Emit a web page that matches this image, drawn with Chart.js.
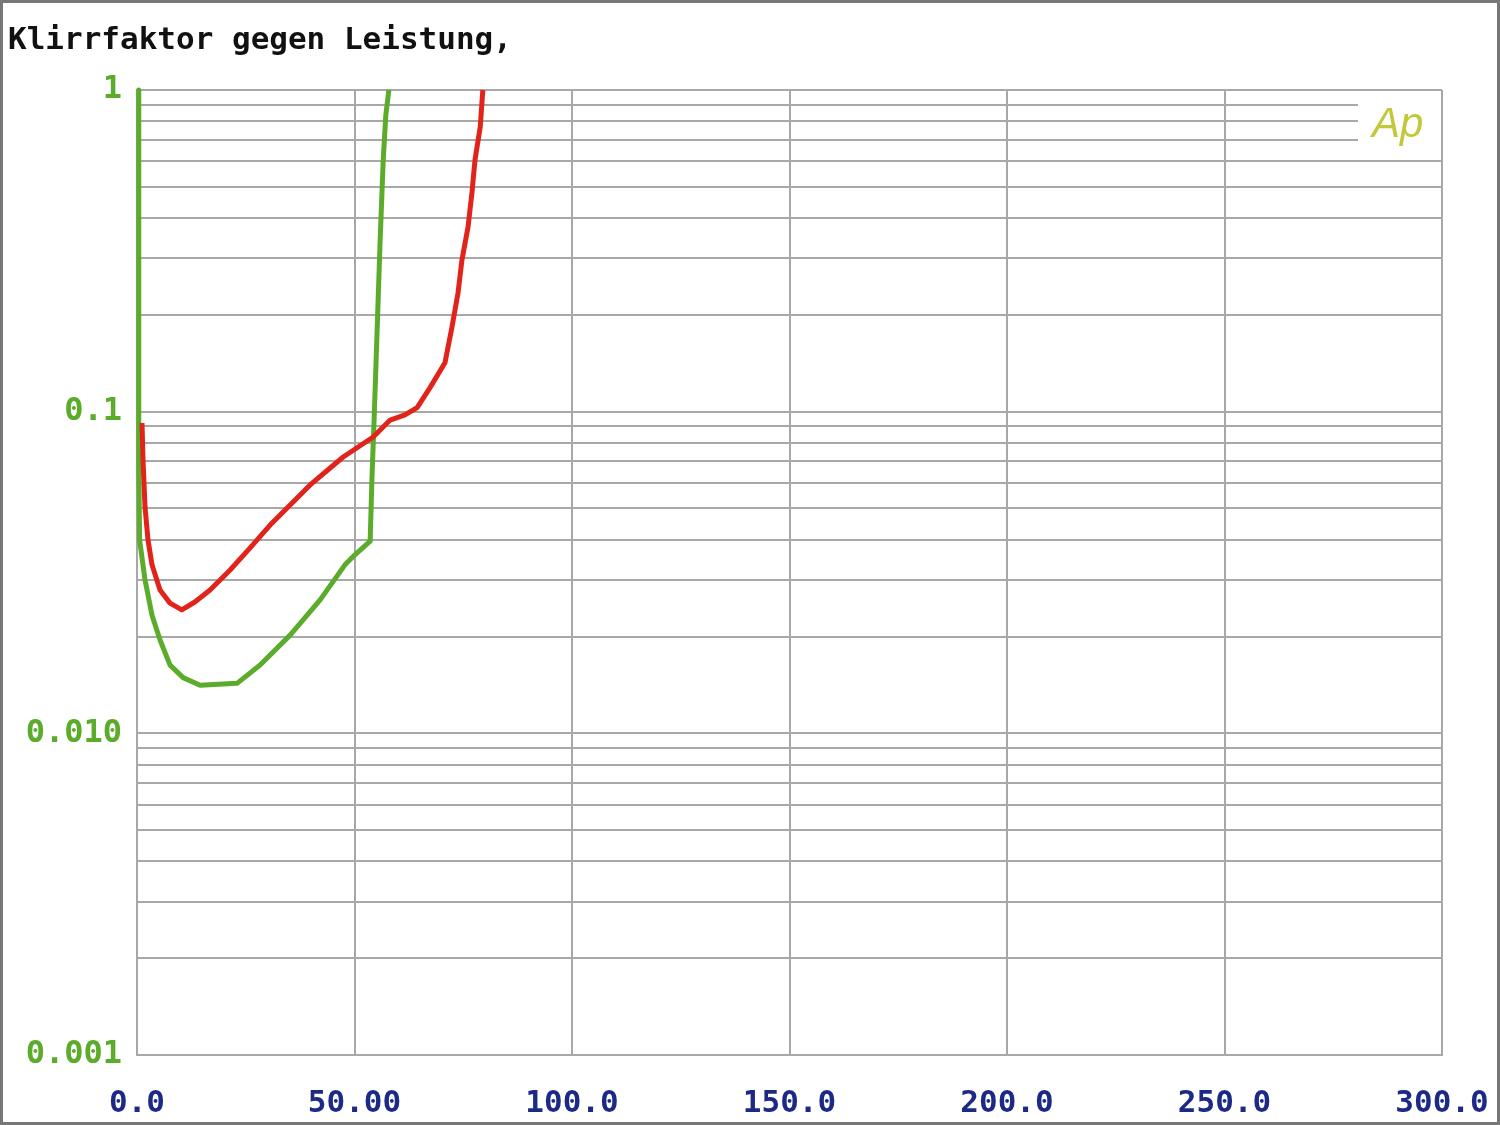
<!DOCTYPE html>
<html>
<head>
<meta charset="utf-8">
<script src="https://cdn.jsdelivr.net/npm/chart.js@4.4.0/dist/chart.umd.min.js"></script>
<style>
  html, body { margin:0; padding:0; background:#fff; }
  #wrap { width:1500px; height:1125px; }
</style>
</head>
<body>
<div id="wrap"><canvas id="c" width="1500" height="1125"></canvas></div>
<script>
// values (x = power, y = THD)
const greenX = [0.4, 0.4, 0.6, 1.84, 3.45, 5.3, 7.6, 10.6, 14.5, 23.0, 28.3, 35.2, 42.1, 47.8, 50.1, 53.6, 54.0, 54.5, 55.2, 55.9, 56.6, 57.2, 57.9];
const greenY = [1.0, 0.0708, 0.0399, 0.030, 0.0233, 0.0195, 0.0163, 0.0149, 0.0141, 0.0143, 0.0163, 0.0202, 0.0260, 0.0334, 0.0359, 0.0396, 0.0613, 0.094, 0.179, 0.342, 0.606, 0.836, 1.0];

const redX = [1.15, 1.38, 1.84, 2.53, 3.45, 5.29, 7.59, 10.3, 13.3, 16.8, 21.4, 26.0, 30.6, 35.2, 39.8, 44.4, 47.4, 54.3, 58.2, 61.6, 64.4, 67.4, 70.8, 72.4, 73.8, 74.7, 76.1, 77.0, 77.7, 78.9, 79.5];
const redY = [0.0922, 0.0708, 0.0506, 0.0399, 0.0334, 0.0279, 0.0254, 0.0242, 0.0256, 0.0279, 0.0322, 0.0377, 0.0444, 0.0513, 0.0592, 0.0668, 0.0723, 0.0834, 0.0942, 0.0977, 0.103, 0.119, 0.142, 0.183, 0.234, 0.296, 0.375, 0.479, 0.606, 0.767, 1.0];

const xTickLabels = ["0.0", "50.00", "100.0", "150.0", "200.0", "250.0", "300.0"];
const yDecades = [0.001, 0.01, 0.1, 1];
const yDecadeLabels = ["0.001", "0.010", "0.1", "1"];

function toPoints(xs, ys) {
  return xs.map((x, i) => ({ x: x, y: ys[i] }));
}

// all log grid positions: 1..9 in every decade
const yTickValues = [];
for (let d = 0; d < 3; d++) {
  for (let k = 1; k <= 9; k++) yTickValues.push(+(yDecades[d] * k).toPrecision(3));
}
yTickValues.push(1);

const monoFont = "'DejaVu Sans Mono', 'Liberation Mono', monospace";

const framePlugin = {
  id: 'frame',
  beforeDraw(chart) {
    const ctx = chart.ctx;
    ctx.save();
    ctx.fillStyle = '#fff';
    ctx.fillRect(0, 0, chart.width, chart.height);
    ctx.restore();
  },
  beforeDatasetsDraw(chart) {
    const ctx = chart.ctx;
    const a = chart.chartArea;
    // blank box behind the logo
    ctx.save();
    ctx.fillStyle = '#fff';
    ctx.fillRect(1358, a.top + 4, a.right - 1 - 1358, 58);
    ctx.font = "italic 300 42px 'Liberation Sans', 'DejaVu Sans', sans-serif";
    ctx.fillStyle = '#c2c83a';
    ctx.textBaseline = 'alphabetic';
    ctx.fillText('Ap', 1372, 137);
    ctx.restore();
  },
  afterDraw(chart) {
    const ctx = chart.ctx;
    ctx.save();
    ctx.font = "bold 31px " + monoFont;
    ctx.fillStyle = '#111';
    ctx.textBaseline = 'alphabetic';
    ctx.fillText('Klirrfaktor gegen Leistung,', 8, 49);
    ctx.strokeStyle = '#777';
    ctx.lineWidth = 4;
    ctx.strokeRect(1, 1, chart.width - 2, chart.height - 2);
    ctx.restore();
  }
};

new Chart(document.getElementById('c'), {
  type: 'scatter',
  data: {
    datasets: [
      {
        data: toPoints(redX, redY),
        showLine: true,
        borderColor: '#e2231a',
        borderWidth: 5,
        pointRadius: 0,
        tension: 0,
        clip: false,
        borderJoinStyle: 'round'
      },
      {
        data: toPoints(greenX, greenY),
        showLine: true,
        borderColor: '#5aac2a',
        borderWidth: 5,
        pointRadius: 0,
        tension: 0,
        clip: false,
        borderJoinStyle: 'round'
      }
    ]
  },
  options: {
    responsive: false,
    animation: false,
    layout: { padding: { top: 90, right: 58, left: 0, bottom: 0 } },
    plugins: { legend: { display: false }, tooltip: { enabled: false } },
    scales: {
      x: {
        type: 'linear',
        min: 0,
        max: 300,
        afterFit: s => { s.height = 70; s.paddingLeft = 0; s.paddingRight = 0; },
        ticks: {
          stepSize: 50,
          padding: 30,
          color: '#1c2a86',
          font: { family: monoFont, size: 31, weight: 'bold' },
          callback: (v, i) => xTickLabels[i]
        },
        grid: { color: '#a8a8a8', lineWidth: 2, drawTicks: false },
        border: { color: '#a8a8a8', width: 2 }
      },
      y: {
        type: 'logarithmic',
        min: 0.001,
        max: 1,
        afterFit: s => { s.width = 137; s.paddingTop = 0; s.paddingBottom = 0; },
        afterBuildTicks: s => { s.ticks = yTickValues.map(v => ({ value: v })); },
        ticks: {
          autoSkip: false,
          padding: 15,
          color: '#5aac2a',
          font: { family: monoFont, size: 32, weight: 'bold' },
          callback: v => {
            const i = yDecades.findIndex(d => Math.abs(d - v) / d < 1e-6);
            return i >= 0 ? yDecadeLabels[i] : '';
          }
        },
        grid: { color: '#a8a8a8', lineWidth: 2, drawTicks: false },
        border: { color: '#a8a8a8', width: 2 }
      }
    }
  },
  plugins: [framePlugin]
});
</script>
</body>
</html>
